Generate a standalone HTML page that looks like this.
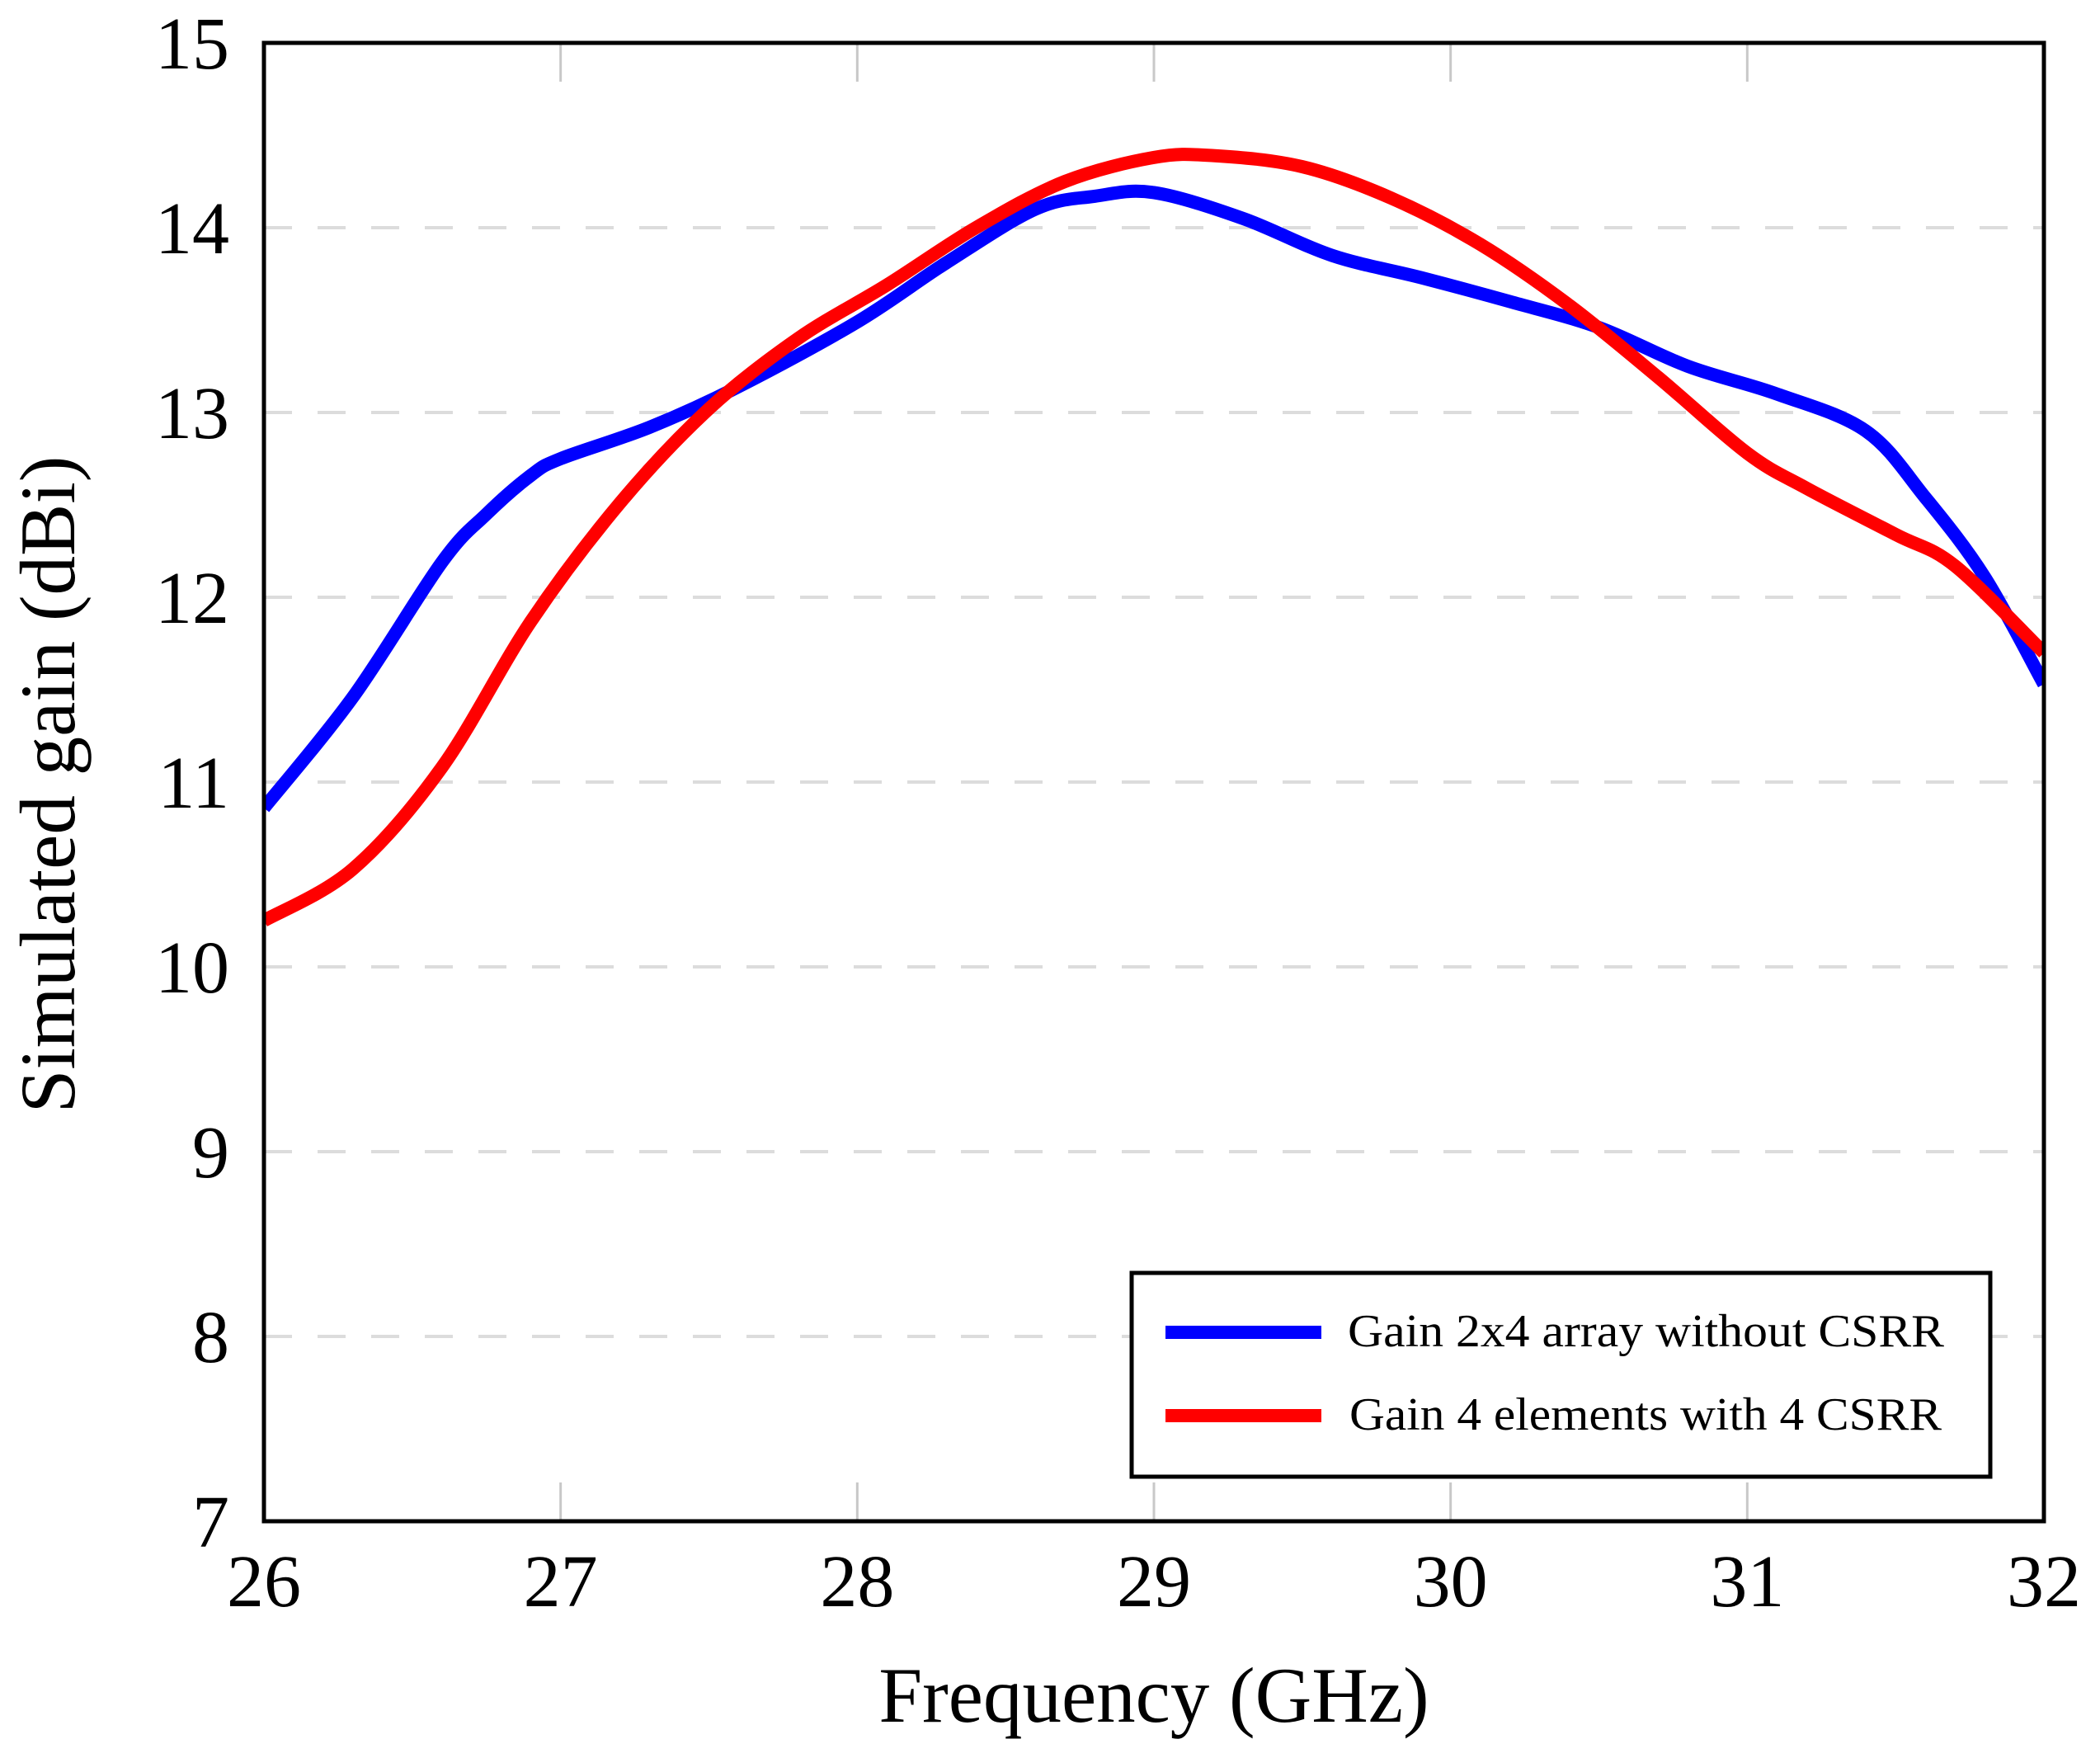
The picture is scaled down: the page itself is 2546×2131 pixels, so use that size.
<!DOCTYPE html>
<html><head><meta charset="utf-8"><style>
html,body{margin:0;padding:0;background:#fff;}
svg{display:block;}
text{font-family:"Liberation Serif",serif;fill:#000;}
</style></head><body>
<svg id="chart" width="2546" height="2131" viewBox="0 0 2546 2131" xmlns="http://www.w3.org/2000/svg">
<g id="grid"></g>
<g id="ticks"></g>
<g id="series"></g>
<rect x="320" y="52" width="2158" height="1792" fill="none" stroke="#000" stroke-width="5"/>
<g id="labels"></g>
<text x="1399" y="2087" font-size="95" text-anchor="middle">Frequency (GHz)</text>
<text transform="translate(90,951) rotate(-90)" font-size="95" text-anchor="middle">Simulated gain (dBi)</text>
<g>
<rect x="1372" y="1543" width="1041" height="247" fill="#fff" stroke="#000" stroke-width="5"/>
<line x1="1413" y1="1615" x2="1602" y2="1615" stroke="#0000ff" stroke-width="16"/>
<text x="1634" y="1632" font-size="56" textLength="723" lengthAdjust="spacingAndGlyphs">Gain 2x4 array without CSRR</text>
<line x1="1413" y1="1716" x2="1602" y2="1716" stroke="#ff0000" stroke-width="16"/>
<text x="1636" y="1733" font-size="56" textLength="718" lengthAdjust="spacingAndGlyphs">Gain 4 elements with 4 CSRR</text>
</g>
</svg>
<script>
const xTicks = [26,27,28,29,30,31,32];
const yTicks = [7,8,9,10,11,12,13,14,15];
const blueFreq = [26,26.3,26.6,26.75,26.9,27,27.3,27.6,28,28.3,28.6,28.8,29,29.3,29.6,29.9,30.2,30.5,30.8,31.1,31.4,31.6,31.8,32];
const blueGain = [10.86,11.46,12.19,12.45,12.66,12.75,12.92,13.14,13.49,13.81,14.1,14.17,14.19,14.05,13.85,13.73,13.6,13.46,13.25,13.1,12.9,12.54,12.11,11.53];
const redFreq = [26,26.3,26.6,26.9,27.2,27.5,27.8,28.1,28.4,28.7,29,29.2,29.5,29.8,30.1,30.4,30.7,31,31.2,31.5,31.7,32];
const redGain = [10.25,10.53,11.08,11.87,12.51,13.02,13.4,13.69,14.0,14.25,14.38,14.39,14.33,14.16,13.91,13.58,13.19,12.78,12.59,12.34,12.17,11.7];

const L=320,R=2478,T=52,B=1844;
function xs(f){return L+(f-26)/(32-26)*(R-L);}
function ys(v){return B-(v-7)/(15-7)*(B-T);}
const NS='http://www.w3.org/2000/svg';
function mk(tag,attrs,parent){const e=document.createElementNS(NS,tag);for(const k in attrs)e.setAttribute(k,attrs[k]);parent.appendChild(e);return e;}
const grid=document.getElementById('grid'),ticks=document.getElementById('ticks'),labels=document.getElementById('labels'),series=document.getElementById('series');
yTicks.forEach(v=>{
  if(v>7&&v<15){
    const g=mk('line',{x1:L,x2:R,y1:ys(v),y2:ys(v),stroke:'#dcdcdc','stroke-width':4,'stroke-dasharray':'34 31'},grid);
    
    
  }
  const t=mk('text',{x:278,y:ys(v)+31,'font-size':90,'text-anchor':'end'},labels);
  t.textContent=v;
  
  
});
xTicks.forEach(f=>{
  if(f>26&&f<32){
    const a=mk('line',{x1:xs(f),x2:xs(f),y1:B,y2:B-47,stroke:'#c8c8c8','stroke-width':3},ticks);
    
    
    const b=mk('line',{x1:xs(f),x2:xs(f),y1:T,y2:T+47,stroke:'#c8c8c8','stroke-width':3},ticks);
    
    
  }
  const t=mk('text',{x:xs(f),y:1947,'font-size':90,'text-anchor':'middle'},labels);
  t.textContent=f;
  
  
});
function smooth(fx,gy){
  const p=fx.map((f,i)=>[xs(f),ys(gy[i])]);
  let d='M'+p[0][0]+','+p[0][1];
  for(let i=0;i<p.length-1;i++){
    const p0=p[i-1]||p[i],p1=p[i],p2=p[i+1],p3=p[i+2]||p2;
    const c1=[p1[0]+(p2[0]-p0[0])/6,p1[1]+(p2[1]-p0[1])/6];
    const c2=[p2[0]-(p3[0]-p1[0])/6,p2[1]-(p3[1]-p1[1])/6];
    d+=' C'+c1[0]+','+c1[1]+' '+c2[0]+','+c2[1]+' '+p2[0]+','+p2[1];
  }
  return d;
}
const cp=mk('clipPath',{id:'clip'},series);
mk('rect',{x:L,y:T,width:R-L,height:B-T},cp);
const bl=mk('path',{d:smooth(blueFreq,blueGain),fill:'none',stroke:'#0000ff','stroke-width':16,'clip-path':'url(#clip)'},series);


const rd=mk('path',{d:smooth(redFreq,redGain),fill:'none',stroke:'#ff0000','stroke-width':16,'clip-path':'url(#clip)'},series);


</script>
</body></html>
